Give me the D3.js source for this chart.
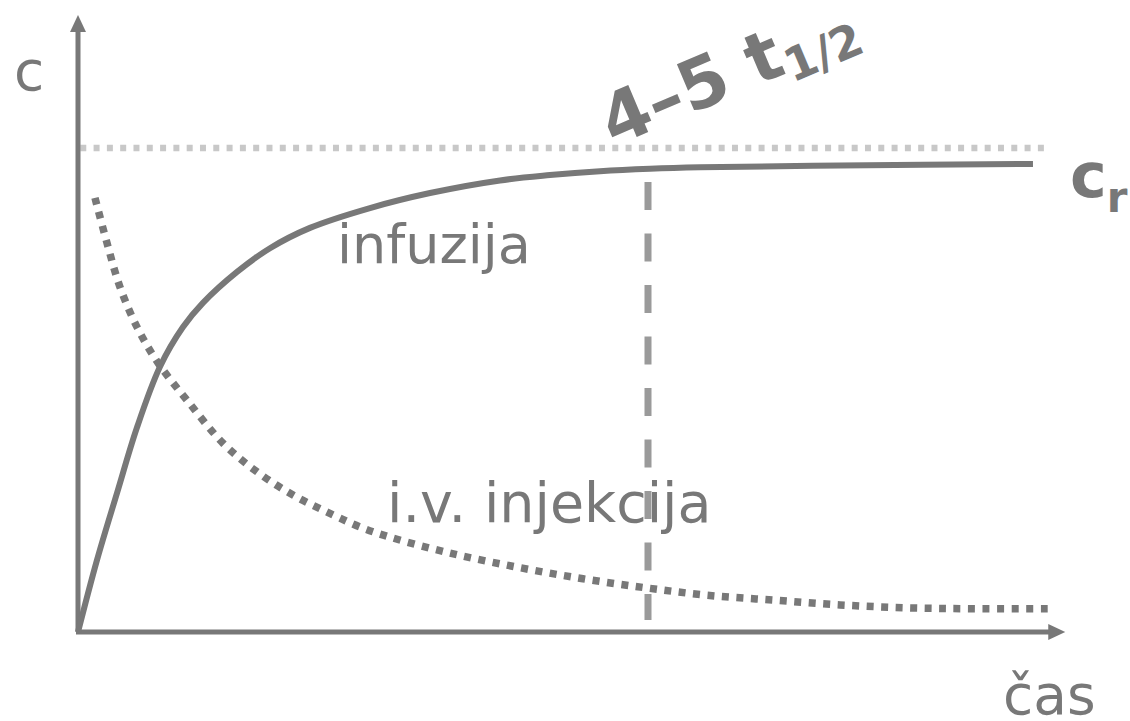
<!DOCTYPE html>
<html>
<head>
<meta charset="utf-8">
<script src="https://cdn.jsdelivr.net/npm/d3@7"></script>
<style>
  html, body { margin: 0; padding: 0; background: #fff; }
  svg { display: block; }
  text { font-family: "DejaVu Sans", Verdana, sans-serif; fill: #787878; }
</style>
</head>
<body>
<div id="chart"></div>
<script>
// time in arbitrary units (5 = the 4-5 half-life mark), concentration relative to c_r
const infusionT = [0, 0.167, 0.342, 0.518, 0.719, 0.921, 1.096, 1.395, 1.684, 2.035, 2.561, 3.088, 3.702, 4.140, 4.579, 5.018, 5.456, 6.684, 8.377];
const infusionC = [0, 0.149, 0.287, 0.423, 0.548, 0.630, 0.680, 0.744, 0.793, 0.835, 0.876, 0.907, 0.933, 0.944, 0.952, 0.957, 0.960, 0.964, 0.967];

const injectionT = [0.149, 0.254, 0.368, 0.518, 0.702, 0.956, 1.272, 1.570, 1.886, 2.237, 2.474, 2.737, 3.263, 3.851, 4.430, 4.991, 5.518, 6.096, 6.684, 7.272, 7.851, 8.570];
const injectionC = [0.897, 0.804, 0.713, 0.630, 0.556, 0.479, 0.390, 0.331, 0.283, 0.242, 0.217, 0.196, 0.163, 0.134, 0.110, 0.091, 0.076, 0.066, 0.056, 0.050, 0.048, 0.048];

const steadyLevel = 1;          // c_r
const steadyRange = [0.02, 8.48];
const halfLifeMark = 5;         // 4-5 t1/2
const markRange = [0.025, 0.93];
const axisMax = { t: 8.66, c: 1.275 };

const width = 1130, height = 721;
const gray = '#787878';

const svg = d3.select('#chart')
    .append('svg')
    .attr('width', width)
    .attr('height', height);

const x = d3.scaleLinear().domain([0, 5]).range([78, 648]);
const y = d3.scaleLinear().domain([0, 1]).range([632, 148]);

// steady state level (dotted, light)
svg.append('line')
    .attr('x1', x(steadyRange[0]))
    .attr('x2', x(steadyRange[1]))
    .attr('y1', y(steadyLevel))
    .attr('y2', y(steadyLevel))
    .attr('stroke', '#c8c8c8')
    .attr('stroke-width', 6.5)
    .attr('stroke-dasharray', '6,7.3');

// 4-5 half-life mark
svg.append('line')
    .attr('x1', x(halfLifeMark))
    .attr('x2', x(halfLifeMark))
    .attr('y1', y(markRange[1]))
    .attr('y2', y(markRange[0]))
    .attr('stroke', '#9a9a9a')
    .attr('stroke-width', 7)
    .attr('stroke-dasharray', '28,23.5');

// axes with arrowheads
const axes = svg.append('g');
axes.append('line')
    .attr('x1', x(0)).attr('y1', y(0))
    .attr('x2', x(0)).attr('y2', y(axisMax.c) + 12)
    .attr('stroke', gray).attr('stroke-width', 5);
axes.append('line')
    .attr('x1', x(0) - 2).attr('y1', y(0))
    .attr('x2', x(axisMax.t) - 12).attr('y2', y(0))
    .attr('stroke', gray).attr('stroke-width', 5);
axes.append('path')
    .attr('d', `M${x(0)},${y(axisMax.c)} L${x(0) - 8},${y(axisMax.c) + 17} L${x(0) + 8},${y(axisMax.c) + 17} Z`)
    .attr('fill', gray);
axes.append('path')
    .attr('d', `M${x(axisMax.t)},${y(0)} L${x(axisMax.t) - 17},${y(0) - 8} L${x(axisMax.t) - 17},${y(0) + 8} Z`)
    .attr('fill', gray);

const line = d3.line()
    .x(d => x(d[0]))
    .y(d => y(d[1]))
    .curve(d3.curveCatmullRom.alpha(0.5));

// i.v. injection (dotted)
svg.append('path')
    .datum(d3.zip(injectionT, injectionC))
    .attr('d', line)
    .attr('fill', 'none')
    .attr('stroke', gray)
    .attr('stroke-width', 7.5)
    .attr('stroke-dasharray', '7,7.5');

// infusion (solid)
svg.append('path')
    .datum(d3.zip(infusionT, infusionC))
    .attr('d', line)
    .attr('fill', 'none')
    .attr('stroke', gray)
    .attr('stroke-width', 6);

// labels
svg.append('text')
    .attr('x', 14).attr('y', 90)
    .style('font-size', '55px')
    .text('c');

svg.append('text')
    .attr('x', 1003).attr('y', 714)
    .style('font-size', '55px')
    .text('čas');

svg.append('text')
    .attr('x', 337).attr('y', 263)
    .style('font-size', '54px')
    .text('infuzija');

svg.append('text')
    .attr('x', 387).attr('y', 522)
    .style('font-size', '55.5px')
    .text('i.v. injekcija');

const cr = svg.append('text')
    .attr('x', 1070).attr('y', 197)
    .style('font-size', '62px')
    .style('font-weight', 'bold');
cr.append('tspan').text('c');
cr.append('tspan').attr('dy', 15).style('font-size', '42px').text('r');

const half = svg.append('text')
    .attr('transform', 'translate(613,147) rotate(-23)')
    .style('font-size', '70px')
    .style('font-weight', 'bold');
half.append('tspan').text('4–5 t');
half.append('tspan').attr('dy', 11).style('font-size', '46px').text('1/2');
</script>
</body>
</html>
